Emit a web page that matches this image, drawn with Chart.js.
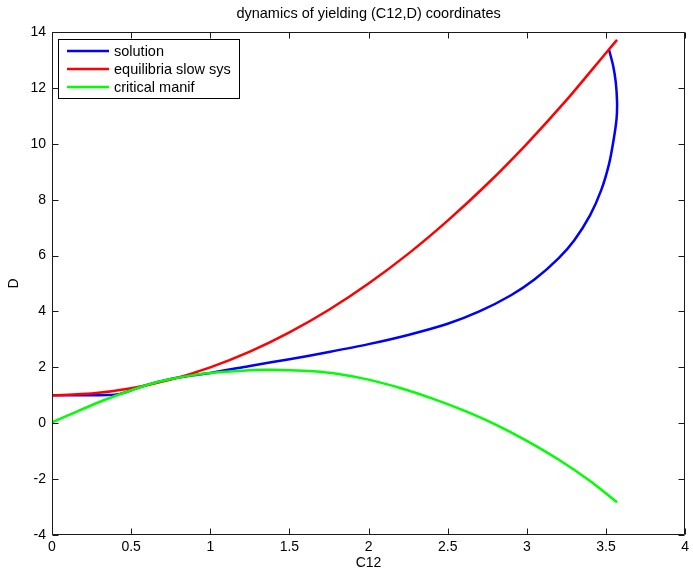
<!DOCTYPE html>
<html>
<head>
<meta charset="utf-8">
<script src="https://cdn.jsdelivr.net/npm/chart.js@4/dist/chart.umd.min.js"></script>
<style>
html,body{margin:0;padding:0;background:#fff;}
#wrap{width:693px;height:575px;}
</style>
</head>
<body>
<div id="wrap"><canvas id="c" width="693" height="575"></canvas></div>
<script>
// ---- data ----
const chartTitle = 'dynamics of yielding (C12,D) coordinates';
const xLabel = 'C12';
const yLabel = 'D';
const seriesNames = ['solution', 'equilibria slow sys', 'critical manif'];

const solutionC12 = [0, 0.2, 0.35, 0.43, 0.5, 0.6, 0.75, 0.87, 1.0, 1.25, 1.5, 1.75, 2.0, 2.25, 2.5, 2.7, 2.9, 3.05, 3.2, 3.3, 3.4, 3.47, 3.52, 3.55, 3.567, 3.57, 3.562, 3.545, 3.52];
const solutionD   = [1.0, 1.0, 1.01, 1.05, 1.18, 1.37, 1.58, 1.7, 1.8, 2.05, 2.29, 2.55, 2.83, 3.16, 3.56, 4.0, 4.58, 5.15, 5.9, 6.55, 7.45, 8.34, 9.29, 10.2, 10.9, 11.5, 12.2, 12.8, 13.35];

const equilibriaC12 = [0, 0.25, 0.5, 0.75, 1.0, 1.25, 1.5, 1.75, 2.0, 2.25, 2.5, 2.75, 3.0, 3.25, 3.5, 3.57];
const equilibriaD   = [1.0, 1.06, 1.25, 1.56, 2.0, 2.56, 3.25, 4.06, 5.0, 6.06, 7.25, 8.56, 10.0, 11.56, 13.25, 13.72];

const criticalC12 = [0, 0.15, 0.3, 0.45, 0.6, 0.75, 0.9, 1.05, 1.2, 1.35, 1.5, 1.65, 1.8, 2.0, 2.2, 2.4, 2.6, 2.8, 3.0, 3.2, 3.4, 3.57];
const criticalD   = [0.03, 0.4, 0.76, 1.08, 1.37, 1.58, 1.73, 1.82, 1.88, 1.91, 1.9, 1.86, 1.77, 1.56, 1.26, 0.89, 0.46, -0.04, -0.63, -1.3, -2.07, -2.83];

const xTickValues = [0, 0.5, 1, 1.5, 2, 2.5, 3, 3.5, 4];
const yTickValues = [-4, -2, 0, 2, 4, 6, 8, 10, 12, 14];

// ---- build ----
const pts = (xs, ys) => xs.map((x, i) => ({x: x, y: ys[i]}));
const FONT = 'Liberation Sans, Arial, Helvetica, sans-serif';
const colors = ['#0000ff', '#ff0000', '#00ff00'];

const framePlugin = {
  id: 'frame',
  afterDraw(chart) {
    const ctx = chart.ctx;
    const a = chart.chartArea;
    const xs = chart.scales.x, ys = chart.scales.y;
    const L = Math.round(a.left) + 0.5, R = Math.round(a.right) - 0.5;
    const T = Math.round(a.top) + 0.5, B = Math.round(a.bottom) - 0.5;
    const tl = 6;
    ctx.save();
    ctx.strokeStyle = '#1a1a1a';
    ctx.lineWidth = 1;
    ctx.beginPath();
    ctx.rect(L, T, R - L, B - T);
    xTickValues.forEach(v => {
      const px = Math.round(xs.getPixelForValue(v)) + 0.5;
      ctx.moveTo(px, B); ctx.lineTo(px, B - tl);
      ctx.moveTo(px, T); ctx.lineTo(px, T + tl);
    });
    yTickValues.forEach(v => {
      const py = Math.round(ys.getPixelForValue(v)) + 0.5;
      ctx.moveTo(L, py); ctx.lineTo(L + tl, py);
      ctx.moveTo(R, py); ctx.lineTo(R - tl, py);
    });
    ctx.stroke();

    // title centered over plot area
    ctx.fillStyle = '#000';
    ctx.font = '14.5px ' + FONT;
    ctx.textAlign = 'center';
    ctx.textBaseline = 'middle';
    ctx.fillText(chartTitle, (a.left + a.right) / 2, 14);

    // legend box
    const bx = 58.5, by = 39.5, bw = 181, bh = 59;
    ctx.fillStyle = '#fff';
    ctx.fillRect(bx, by, bw, bh);
    ctx.strokeStyle = '#000';
    ctx.lineWidth = 1;
    ctx.strokeRect(bx, by, bw, bh);
    ctx.textAlign = 'left';
    ctx.font = '14.5px ' + FONT;
    chart.data.datasets.forEach((ds, i) => {
      const y = 51 + i * 18;
      ctx.strokeStyle = ds.borderColor;
      ctx.lineWidth = 2.5;
      ctx.beginPath();
      ctx.moveTo(67, y); ctx.lineTo(109, y);
      ctx.stroke();
      ctx.fillStyle = '#000';
      ctx.fillText(ds.label, 114, y + 0.5);
    });
    ctx.restore();
  }
};

new Chart(document.getElementById('c'), {
  type: 'scatter',
  data: {
    datasets: [
      {label: seriesNames[0], data: pts(solutionC12, solutionD), borderColor: colors[0], order: 2},
      {label: seriesNames[1], data: pts(equilibriaC12, equilibriaD), borderColor: colors[1], order: 1},
      {label: seriesNames[2], data: pts(criticalC12, criticalD), borderColor: colors[2], order: 0}
    ].map(d => Object.assign(d, {showLine: true, pointRadius: 0, borderWidth: 2.5, tension: 0.25, fill: false, backgroundColor: d.borderColor}))
  },
  options: {
    responsive: false,
    animation: false,
    devicePixelRatio: 1,
    layout: {padding: {top: 32, right: 6, left: 0, bottom: 0}},
    plugins: {legend: {display: false}, title: {display: false}, tooltip: {enabled: false}},
    scales: {
      x: {
        type: 'linear', position: 'bottom', min: 0, max: 4,
        afterBuildTicks: s => { s.ticks = xTickValues.map(v => ({value: v})); },
        afterFit: s => { s.height = 40; },
        grid: {display: false, drawTicks: false},
        border: {display: false},
        ticks: {color: '#000', font: {family: FONT, size: 14}, padding: 4, maxRotation: 0, autoSkip: false, callback: v => String(v)},
        title: {display: true, text: xLabel, color: '#000', font: {family: FONT, size: 14}, padding: {top: 0, bottom: 3}}
      },
      y: {
        type: 'linear', position: 'left', min: -4, max: 14,
        afterBuildTicks: s => { s.ticks = yTickValues.map(v => ({value: v})); },
        afterFit: s => { s.width = 52; },
        grid: {display: false, drawTicks: false},
        border: {display: false},
        ticks: {color: '#000', font: {family: FONT, size: 14}, padding: 6, autoSkip: false, callback: v => String(v)},
        title: {display: true, text: yLabel, color: '#000', font: {family: FONT, size: 14}, padding: {top: 6, bottom: 0}}
      }
    }
  },
  plugins: [framePlugin]
});
</script>
</body>
</html>
